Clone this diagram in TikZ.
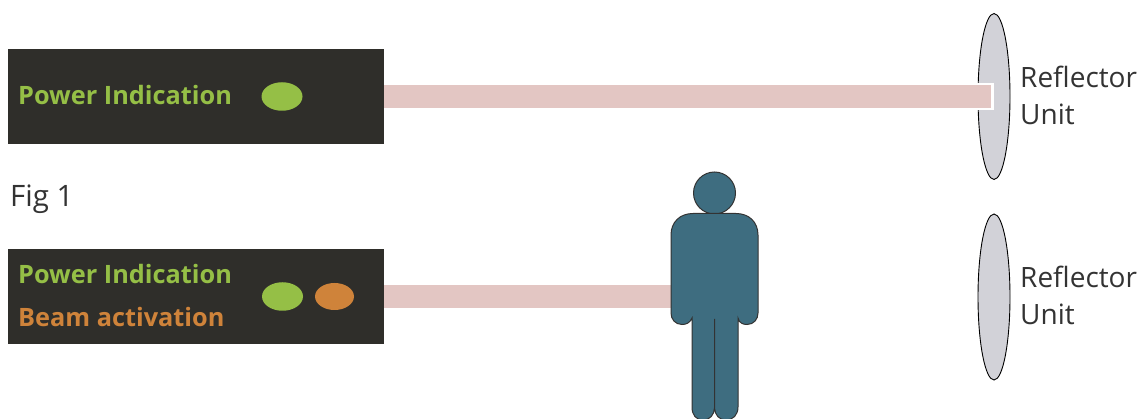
\documentclass[tikz,border=0pt]{standalone}
\usepackage{fontspec}
\setmainfont{Open Sans}
\usetikzlibrary{shapes.geometric,positioning}

\definecolor{panelcol}{HTML}{2F2E2A}
\definecolor{greencol}{HTML}{95BF46}
\definecolor{orangecol}{HTML}{CF833A}
\definecolor{beamcol}{HTML}{E3C6C3}
\definecolor{personcol}{HTML}{3E6D80}
\definecolor{mirrorcol}{HTML}{D2D2D8}
\definecolor{textcol}{HTML}{333333}

\begin{document}
\begin{tikzpicture}[
  x=1pt, y=-1pt,
  panel/.style={fill=panelcol, minimum width=376pt, minimum height=95pt, inner sep=0pt},
  lamp/.style={ellipse, inner sep=0pt, minimum width=41pt, minimum height=28.5pt},
  mirror/.style={ellipse, draw=black, fill=mirrorcol, line width=0.9pt, inner sep=0pt, minimum width=32pt, minimum height=166pt},
  paneltext/.style={inner sep=0pt, anchor=base west, font=\fontsize{25.3}{28}\selectfont\bfseries},
  caption/.style={inner sep=0pt, anchor=base west, text=textcol, align=left, font=\fontsize{28}{37}\selectfont},
  halo/.style={white, line width=27pt},
  beam/.style={beamcol, line width=23pt},
  person/.style={fill=personcol, draw=textcol, line width=1pt}
]
\useasboundingbox (0,0) rectangle (1143,419);

% top unit
\node[panel] (panelA) at (196,96.5) {};
\node[paneltext, text=greencol] (powerA) at (18,105) {Power Indication};
\node[lamp, fill=greencol] (greenA) at (282,96.5) {};
\node[mirror] (mirrorA) at (994,96.5) {};
\node[caption] (reflA) at (1020,125) {Reflector\\Unit};
\node[caption, font=\fontsize{29.5}{33}\selectfont] (figA) at (10,207) {Fig 1};

% bottom unit
\node[panel] (panelB) at (196,296.5) {};
\node[paneltext, text=greencol] (powerB) at (18,284) {Power Indication};
\node[paneltext, text=orangecol] (beamB) at (18,327) {Beam activation};
\node[lamp, fill=greencol] (greenB) at (282.5,296.5) {};
\node[lamp, fill=orangecol, minimum width=39pt, minimum height=27pt] (orangeB) at (334.5,296.5) {};
\node[mirror] (mirrorB) at (994,297) {};
\node[caption] (reflB) at (1020,325) {Reflector\\Unit};

% beams
\coordinate (beamendA) at (991,96.5);
\coordinate (bodyleft) at (680,296.5);
\draw[halo] (panelA.east) -- ([xshift=2.5pt]beamendA);
\draw[beam] (panelA.east) -- (beamendA);
\draw[beam] (panelB.east) -- (bodyleft);

% person
\node[circle, person, inner sep=0pt, minimum size=42pt] (head) at (714.5,193) {};
\draw[person] (692,318) .. controls (690,323) and (686,324.5) .. (682,324.5)
  .. controls (675,324.5) and (671,319) .. (671,313) -- (671,235)
  .. controls (671,222) and (680,213.5) .. (693,213.5) -- (736,213.5)
  .. controls (749,213.5) and (758,222) .. (758,235) -- (758,313)
  .. controls (758,319) and (754,324.5) .. (747,324.5)
  .. controls (743,324.5) and (739,323) .. (738,318) -- (738,407)
  .. controls (738,415) and (733,420) .. (726,420)
  .. controls (719,420) and (715,415) .. (714.5,408) -- (714.5,319)
  -- (714.5,408) .. controls (714,415) and (710,420) .. (703,420)
  .. controls (696,420) and (692,415) .. (692,407) -- cycle;
\end{tikzpicture}
\end{document}
